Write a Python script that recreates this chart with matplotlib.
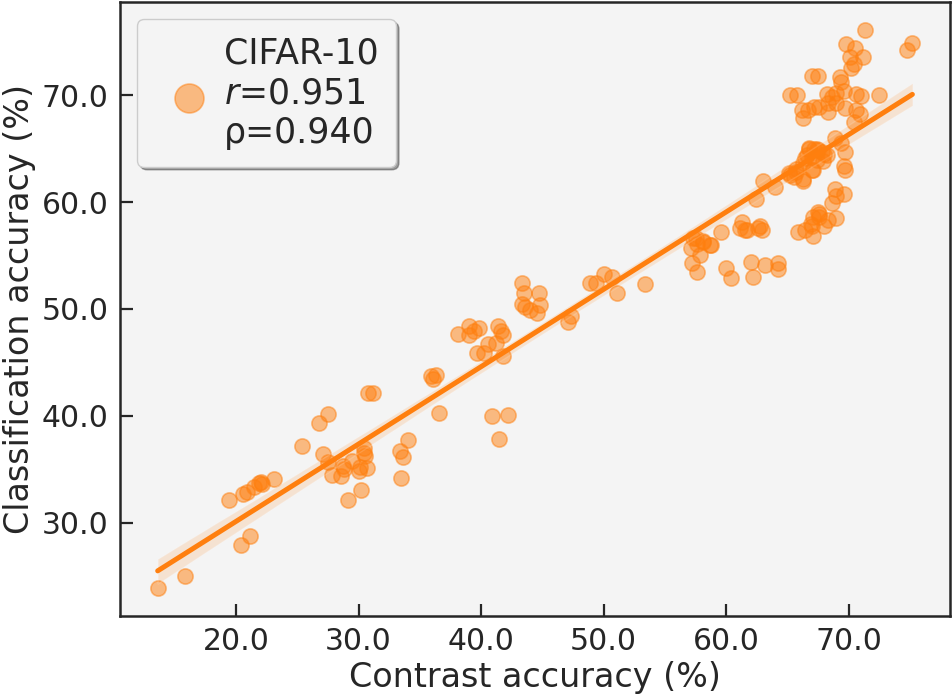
import numpy as np
import matplotlib
matplotlib.use("Agg")
import matplotlib.pyplot as plt
import matplotlib.ticker as mticker
import seaborn as sns

# Contrast accuracy (%) vs classification accuracy (%)
contrast_acc = [
    13.6, 15.8, 20.4, 21.1, 19.4, 20.6, 20.9, 21.5, 21.9, 22.0, 22.1, 23.1, 25.4, 26.8, 27.5, 27.1,
    27.5, 27.8, 28.6, 28.7, 28.8, 29.5, 29.1, 30.2, 30.4, 30.4, 30.5, 30.0, 30.7, 30.1, 30.8, 31.2,
    33.4, 33.6, 34.0, 33.5, 35.9, 36.3, 36.1, 36.6, 38.1, 39.0, 39.4, 39.8, 39.0, 39.7, 40.2, 40.6,
    41.2, 41.4, 41.6, 41.8, 41.8, 40.9, 42.2, 41.5,
    43.3, 43.5, 43.3, 43.6, 44.7, 44.8, 44.6, 44.0, 47.3, 47.1, 48.9, 50.0, 50.7, 49.4, 51.1, 53.4,
    57.3, 57.1, 57.6, 58.1, 57.9, 57.2, 57.6, 58.8, 59.6, 60.0, 60.4, 62.0, 62.2, 63.2, 64.2, 64.2,
    61.1, 61.7, 62.6, 62.9, 61.3, 61.5, 62.8, 58.7, 58.1, 57.5,
    65.9, 66.4, 67.1, 66.9, 67.1, 67.6, 68.0, 67.0, 68.6, 69.0, 68.3, 67.6, 67.5, 68.9, 69.0, 69.6,
    62.4, 63.0, 64.0, 65.2, 65.7, 66.3, 67.1, 65.1, 65.5, 66.3, 65.7, 66.3, 67.0, 66.8, 67.4, 67.8,
    66.4, 68.2, 68.9, 69.6, 69.7, 69.4, 69.7, 66.8, 67.2, 67.5, 68.0, 67.0, 66.6, 67.4, 67.9,
    71.3, 69.8, 70.5, 71.2, 70.1, 70.4, 70.2, 75.2, 74.8, 67.0, 67.5, 69.3, 69.4, 65.2, 65.8, 72.5,
    70.6, 71.0, 68.2, 68.6, 69.0, 69.6, 68.3, 69.0, 69.7, 66.2, 66.7, 67.2, 67.6, 66.3, 68.3, 70.6,
    70.9, 70.4,
]
class_acc = [
    23.9, 25.0, 27.9, 28.8, 32.1, 32.7, 32.9, 33.3, 33.7, 33.8, 33.6, 34.1, 37.2, 39.3, 40.2, 36.4,
    35.7, 34.5, 34.4, 35.3, 35.0, 35.8, 32.1, 33.1, 36.5, 37.0, 36.2, 34.8, 35.1, 35.2, 42.1, 42.1,
    36.7, 36.1, 37.7, 34.2, 43.7, 43.8, 43.4, 40.3, 47.7, 48.4, 47.9, 48.2, 47.6, 45.9, 45.9, 46.7,
    46.8, 48.4, 47.9, 47.6, 45.6, 40.0, 40.1, 37.8,
    52.4, 51.5, 50.5, 50.2, 51.5, 50.4, 49.6, 49.9, 49.3, 48.8, 52.4, 53.3, 53.0, 52.4, 51.5, 52.3,
    56.6, 55.7, 56.1, 56.3, 55.0, 54.3, 53.5, 56.0, 57.2, 53.8, 52.9, 54.4, 53.0, 54.1, 54.3, 53.7,
    57.6, 57.4, 57.6, 57.4, 58.1, 57.4, 57.8, 56.0, 56.4, 56.6,
    57.2, 57.4, 56.8, 57.9, 58.6, 58.9, 57.8, 57.8, 59.9, 58.5, 58.3, 58.6, 59.1, 61.2, 60.6, 60.8,
    60.3, 62.0, 61.4, 62.5, 62.8, 62.2, 63.0, 62.7, 62.3, 62.0, 63.1, 63.7, 63.0, 65.0, 65.0, 64.7,
    64.1, 64.4, 66.0, 63.4, 63.0, 65.5, 64.7, 65.1, 65.0, 64.9, 64.5, 64.2, 64.4, 63.9, 63.8,
    76.1, 74.8, 74.4, 73.6, 73.6, 72.9, 72.5, 74.9, 74.2, 71.8, 71.8, 71.7, 71.2, 70.0, 70.0, 70.0,
    70.1, 69.9, 70.1, 69.8, 70.2, 70.4, 69.3, 69.3, 68.8, 68.6, 68.6, 68.9, 68.9, 67.9, 68.4, 68.6,
    68.2, 67.5,
]
dataset_name = "CIFAR-10"
pearson_r = 0.951
spearman_rho = 0.940

sns.set_style("ticks")
plt.rcParams["font.family"] = ["DejaVu Sans"]
text_col = "#262626"

fig, ax = plt.subplots(figsize=(9.52, 6.95), dpi=100)
fig.subplots_adjust(left=0.126, right=0.998, top=0.997, bottom=0.114)
ax.set_facecolor("#f4f4f4")

label = f"{dataset_name}\n$r$={pearson_r:.3f}\nρ={spearman_rho:.3f}"
sns.regplot(x=np.array(contrast_acc), y=np.array(class_acc), ax=ax, color="#ff7f0e",
            label=label,
            scatter_kws=dict(s=120, alpha=0.5, linewidths=1.2),
            line_kws=dict(lw=3.6))

ax.xaxis.set_major_formatter(mticker.FormatStrFormatter("%.1f"))
ax.yaxis.set_major_formatter(mticker.FormatStrFormatter("%.1f"))
ax.tick_params(direction="in", length=9, width=1.6, labelsize=21.5, colors=text_col, pad=8)
for sp in ax.spines.values():
    sp.set_linewidth(1.8)
    sp.set_color(text_col)

ax.set_xlabel("Contrast accuracy (%)", fontsize=24, color=text_col, labelpad=4)
ax.set_ylabel("Classification accuracy (%)", fontsize=24, color=text_col, labelpad=4)

leg = ax.legend(loc="upper left", fontsize=25, shadow=True, fancybox=True,
                markerscale=1.9, handletextpad=0.0, borderpad=0.5)
leg.get_frame().set_facecolor("#f4f4f4")
leg.get_frame().set_edgecolor("#cccccc")
leg.get_frame().set_alpha(1)
for t in leg.get_texts():
    t.set_color(text_col)

fig.savefig("out.png", dpi=100)
